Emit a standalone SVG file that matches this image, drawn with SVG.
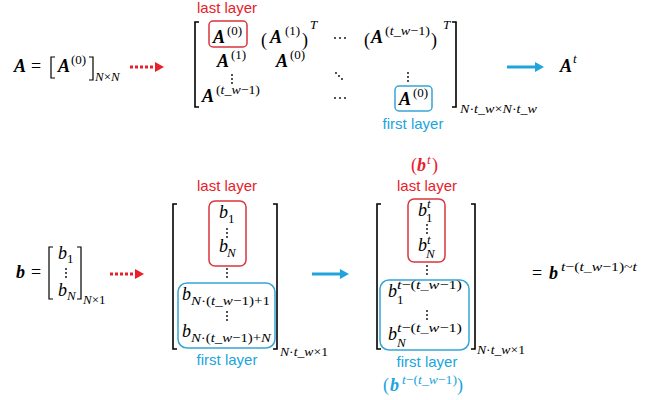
<svg xmlns="http://www.w3.org/2000/svg" xmlns:xlink="http://www.w3.org/1999/xlink" width="655" height="400" viewBox="0 0 655 400">
<style>
.m{font-family:"Liberation Serif","Times New Roman",serif;font-size:18px;font-style:italic;fill:#000}
.mb{font-weight:bold}
.up{font-style:normal}
.s{font-size:13px;font-style:normal}
.i{font-style:italic}
.lbl{font-family:"Liberation Sans",Arial,sans-serif;font-size:15px;text-anchor:middle}
.red{fill:#e8202a}
.blue{fill:#20a4dc}
.br{fill:none;stroke:#000;stroke-width:1.6}
.sbr{fill:none;stroke:#000;stroke-width:1.2}
.boxr{fill:none;stroke:#d9363e;stroke-width:1.5}
.boxb{fill:none;stroke:#36a5d6;stroke-width:1.5}
.dot{fill:#000}
.arr-r{stroke:#e8202a;stroke-width:3;stroke-dasharray:3 2;fill:none}
.arr-b{stroke:#20a4dc;stroke-width:3;fill:none}
</style>
<defs>
<marker id="hr" markerUnits="userSpaceOnUse" markerWidth="9" markerHeight="10" refX="0" refY="5" orient="auto"><path d="M0,0 L9,5 L0,10 z" fill="#e8202a"/></marker>
<marker id="hb" markerUnits="userSpaceOnUse" markerWidth="9" markerHeight="10" refX="0" refY="5" orient="auto"><path d="M0,0 L9,5 L0,10 z" fill="#20a4dc"/></marker>
<g id="vd"><circle class="dot" cx="0" cy="0" r="0.9"/><circle class="dot" cx="0" cy="4" r="0.9"/><circle class="dot" cx="0" cy="8" r="0.9"/></g>
</defs>

<g id="A-def">
<text class="m mb" x="14" y="72">A</text>
<text class="m up" x="31" y="72">=</text>
<path class="sbr" d="M55,57 H51 V78 H55"/>
<text class="m mb" x="58" y="72">A</text>
<text class="m s" x="71" y="64">(0)</text>
<path class="sbr" d="M89,57 H93 V80 H89"/>
<text class="m s" x="95" y="81"><tspan class="i">N</tspan>×<tspan class="i">N</tspan></text>
</g>

<g id="A-matrix">
<text class="lbl red" x="227" y="13">last layer</text>
<path class="br" d="M199,22 H195 V107 H199"/>
<path class="br" d="M452,22 H456 V107 H452"/>
<rect class="boxr" x="209" y="21" width="38" height="26" rx="4"/>
<text class="m mb" x="213" y="43">A</text>
<text class="m s" x="227" y="35">(0)</text>
<text class="m up" x="261" y="46" font-size="23">(</text>
<text class="m mb" x="270" y="43">A</text>
<text class="m s" x="285" y="35">(1)</text>
<text class="m up" x="302" y="46" font-size="23">)</text>
<text class="m s i" x="310" y="29">T</text>
<circle class="dot" cx="335" cy="38" r="0.9"/><circle class="dot" cx="340" cy="38" r="0.9"/><circle class="dot" cx="345" cy="38" r="0.9"/>
<text class="m up" x="364" y="46" font-size="23">(</text>
<text class="m mb" x="371" y="43">A</text>
<text class="m s" x="385" y="35" textLength="45" lengthAdjust="spacingAndGlyphs">(<tspan class="i">t</tspan>_<tspan class="i">w</tspan>−1)</text>
<text class="m up" x="431" y="46" font-size="23">)</text>
<text class="m s i" x="443" y="29">T</text>
<text class="m mb" x="217" y="67">A</text>
<text class="m s" x="231" y="59">(1)</text>
<text class="m mb" x="276" y="67">A</text>
<text class="m s" x="290" y="59">(0)</text>
<use xlink:href="#vd" x="232" y="75"/>
<circle class="dot" cx="336" cy="73" r="0.9"/><circle class="dot" cx="339" cy="76" r="0.9"/><circle class="dot" cx="342" cy="79" r="0.9"/>
<use xlink:href="#vd" x="408" y="73"/>
<text class="m mb" x="202" y="102">A</text>
<text class="m s" x="216" y="94" textLength="44" lengthAdjust="spacingAndGlyphs">(<tspan class="i">t</tspan>_<tspan class="i">w</tspan>−1)</text>
<circle class="dot" cx="335" cy="98" r="0.9"/><circle class="dot" cx="340" cy="98" r="0.9"/><circle class="dot" cx="345" cy="98" r="0.9"/>
<rect class="boxb" x="395" y="86" width="37" height="25" rx="4"/>
<text class="m mb" x="399" y="105">A</text>
<text class="m s" x="413" y="97">(0)</text>
<text class="lbl blue" x="413" y="129">first layer</text>
<text class="m s" x="460" y="113" textLength="77" lengthAdjust="spacingAndGlyphs"><tspan class="i">N</tspan>·<tspan class="i">t</tspan>_<tspan class="i">w</tspan>×<tspan class="i">N</tspan>·<tspan class="i">t</tspan>_<tspan class="i">w</tspan></text>
</g>

<g id="A-t">
<text class="m mb" x="560" y="72">A</text>
<text class="m s i" x="573" y="63">t</text>
</g>

<g id="b-def">
<text class="m mb" x="16" y="278">b</text>
<text class="m up" x="31" y="278">=</text>
<path class="sbr" d="M53,247 H49 V299 H53"/>
<path class="sbr" d="M77,247 H81 V299 H77"/>
<text class="m" x="58" y="259">b</text>
<text class="m s" x="67" y="263">1</text>
<use xlink:href="#vd" x="66" y="269"/>
<text class="m" x="58" y="296">b</text>
<text class="m s i" x="67" y="300">N</text>
<text class="m s" x="83" y="304"><tspan class="i">N</tspan>×1</text>
</g>

<g id="b-stack">
<text class="lbl red" x="227" y="191">last layer</text>
<path class="br" d="M177,204 H173 V349 H177"/>
<path class="br" d="M273,204 H277 V349 H273"/>
<rect class="boxr" x="209" y="201" width="37" height="65" rx="6"/>
<text class="m" x="219" y="218">b</text>
<text class="m s" x="228" y="223">1</text>
<use xlink:href="#vd" x="227" y="229"/>
<text class="m" x="219" y="252">b</text>
<text class="m s i" x="227" y="257">N</text>
<use xlink:href="#vd" x="227" y="269"/>
<rect class="boxb" x="178" y="283" width="97" height="65" rx="9"/>
<text class="m" x="182" y="300">b</text>
<text class="m s" x="191" y="305" textLength="79" lengthAdjust="spacingAndGlyphs"><tspan class="i">N</tspan>·(<tspan class="i">t</tspan>_<tspan class="i">w</tspan>−1)+1</text>
<use xlink:href="#vd" x="227" y="312"/>
<text class="m" x="182" y="337">b</text>
<text class="m s" x="191" y="342" textLength="80" lengthAdjust="spacingAndGlyphs"><tspan class="i">N</tspan>·(<tspan class="i">t</tspan>_<tspan class="i">w</tspan>−1)+<tspan class="i">N</tspan></text>
<text class="m s" x="280" y="356" textLength="48" lengthAdjust="spacingAndGlyphs"><tspan class="i">N</tspan>·<tspan class="i">t</tspan>_<tspan class="i">w</tspan>×1</text>
<text class="lbl blue" x="227" y="365">first layer</text>
</g>

<g id="b-window">
<text class="m up red" x="411" y="171">(</text>
<text class="m mb red" x="417" y="171">b</text>
<text class="m s i red" x="427" y="164">t</text>
<text class="m up red" x="432" y="171">)</text>
<text class="lbl red" x="427" y="191">last layer</text>
<path class="br" d="M381,204 H377 V349 H381"/>
<path class="br" d="M471,204 H475 V349 H471"/>
<rect class="boxr" x="408" y="199" width="37" height="63" rx="6"/>
<text class="m" x="418" y="216">b</text>
<text class="m s i" x="427" y="208">t</text>
<text class="m s" x="426" y="222">1</text>
<use xlink:href="#vd" x="427" y="225"/>
<text class="m" x="418" y="251">b</text>
<text class="m s i" x="427" y="244">t</text>
<text class="m s i" x="426" y="258">N</text>
<use xlink:href="#vd" x="427" y="266"/>
<rect class="boxb" x="380" y="280" width="89" height="70" rx="9"/>
<text class="m" x="388" y="297">b</text>
<text class="m s" x="397" y="289" textLength="65" lengthAdjust="spacingAndGlyphs"><tspan class="i">t</tspan>−(<tspan class="i">t</tspan>_<tspan class="i">w</tspan>−1)</text>
<text class="m s" x="397" y="304">1</text>
<use xlink:href="#vd" x="427" y="311"/>
<text class="m" x="388" y="340">b</text>
<text class="m s" x="397" y="332" textLength="65" lengthAdjust="spacingAndGlyphs"><tspan class="i">t</tspan>−(<tspan class="i">t</tspan>_<tspan class="i">w</tspan>−1)</text>
<text class="m s i" x="397" y="347">N</text>
<text class="m s" x="477" y="354" textLength="48" lengthAdjust="spacingAndGlyphs"><tspan class="i">N</tspan>·<tspan class="i">t</tspan>_<tspan class="i">w</tspan>×1</text>
<text class="lbl blue" x="427" y="367">first layer</text>
<text class="m up blue" x="383" y="391">(</text>
<text class="m mb blue" x="390" y="391">b</text>
<text class="m s blue" x="402" y="384" textLength="55" lengthAdjust="spacingAndGlyphs"><tspan class="i">t</tspan>−(<tspan class="i">t</tspan>_<tspan class="i">w</tspan>−1)</text>
<text class="m up blue" x="457" y="391">)</text>
</g>

<g id="b-result">
<text class="m up" x="532" y="279">=</text>
<text class="m mb" x="549" y="279">b</text>
<text class="m s" x="561" y="271" textLength="76" lengthAdjust="spacingAndGlyphs"><tspan class="i">t</tspan>−(<tspan class="i">t</tspan>_<tspan class="i">w</tspan>−1)~<tspan class="i">t</tspan></text>
</g>

<g id="connectors">
<line class="arr-r" x1="130" y1="67" x2="155" y2="67" marker-end="url(#hr)"/>
<line class="arr-b" x1="507" y1="67" x2="535" y2="67" marker-end="url(#hb)"/>
<line class="arr-r" x1="110" y1="274" x2="135" y2="274" marker-end="url(#hr)"/>
<line class="arr-b" x1="312" y1="274" x2="340" y2="274" marker-end="url(#hb)"/>
</g>
</svg>
